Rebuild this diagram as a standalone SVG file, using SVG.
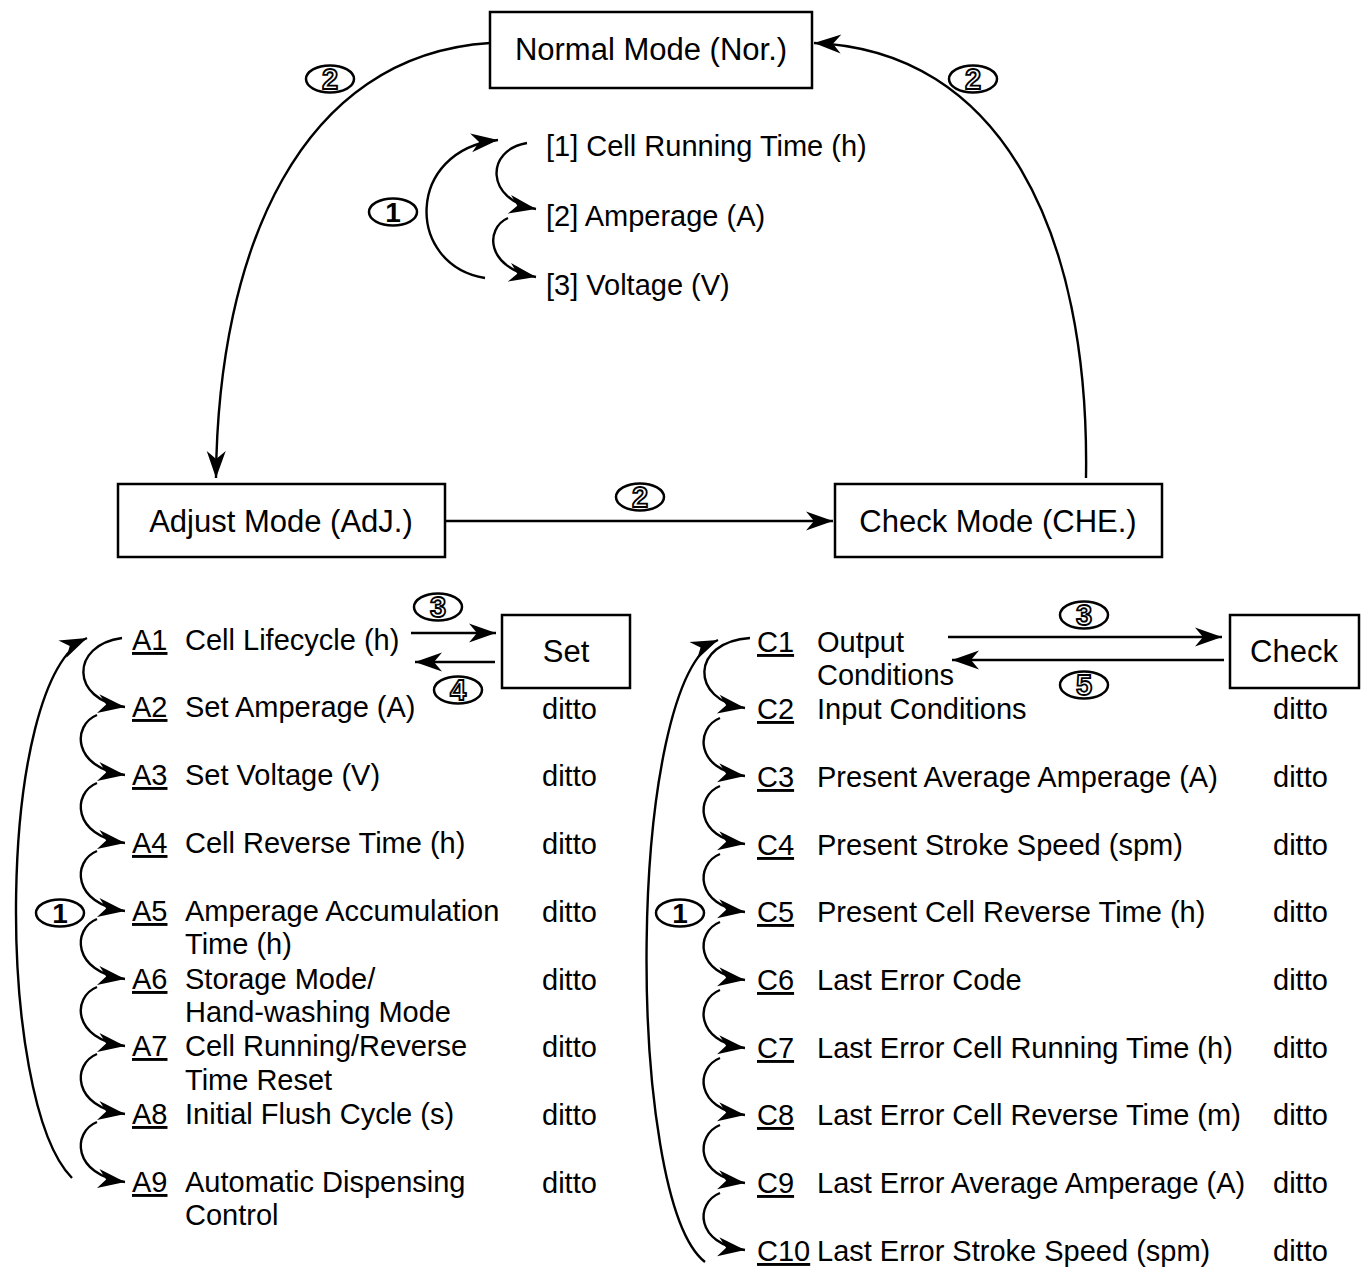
<svg xmlns="http://www.w3.org/2000/svg" width="1367" height="1268" viewBox="0 0 1367 1268">
<defs>
<marker id="ah" markerUnits="userSpaceOnUse" markerWidth="30" markerHeight="22" refX="27" refY="9.5" orient="auto" overflow="visible">
<path d="M0,0 L27,9.5 L0,19 L8,9.5 z" fill="#000"/>
</marker>
</defs>
<style>
text{font-family:"Liberation Sans",Arial,sans-serif;font-size:29px;fill:#000}
.b{font-size:31px;text-anchor:middle}
.n{font-size:29px;text-anchor:middle;font-weight:bold;fill:#fff;stroke:#000;stroke-width:1.8}
.n1{font-size:28px;text-anchor:middle;font-weight:bold}
.u{text-decoration:underline}
.box{fill:#fff;stroke:#000;stroke-width:2.5}
.ell{fill:#fff;stroke:#000;stroke-width:2.5}
.ln{fill:none;stroke:#000;stroke-width:2.4;marker-end:url(#ah)}
</style>
<rect width="1367" height="1268" fill="#fff"/>
<g id="connectors">
<path class="ln" d="M490 43 C300 55,218 250,216 478"/>
<path class="ln" d="M1086 478 C1090 230,1000 50,814 43"/>
<path class="ln" d="M445 521 L833 521"/>
<path class="ln" d="M485 278 C405 265,405 150,498 140"/>
<path class="ln" d="M527 143 C485 150,485 200,536 209"/>
<path class="ln" d="M508 218 C485 228,485 268,536 277"/>
<path class="ln" d="M411 633 L496 633"/>
<path class="ln" d="M495 662 L415 662"/>
<path class="ln" d="M948 637 L1222 637"/>
<path class="ln" d="M1224 660 L952 660"/>
<path class="ln" d="M72 1178 C-5 1100,-5 680,87 638"/>
<path class="ln" d="M122 638 C70 645,70 700,125 707"/>
<path class="ln" d="M97 715 C72 725,72 768,125 775"/>
<path class="ln" d="M97 783 C72 793,72 836,125 843"/>
<path class="ln" d="M97 851 C72 861,72 904,125 911"/>
<path class="ln" d="M97 919 C72 929,72 972,125 979"/>
<path class="ln" d="M97 987 C72 997,72 1039,125 1046"/>
<path class="ln" d="M97 1054 C72 1064,72 1107,125 1114"/>
<path class="ln" d="M97 1122 C72 1132,72 1175,125 1182"/>
<path class="ln" d="M705 1262 C625 1200,625 680,718 640"/>
<path class="ln" d="M750 638 C690 642,690 700,745 708"/>
<path class="ln" d="M720 718 C695 728,695 770,745 776"/>
<path class="ln" d="M720 786 C695 796,695 838,745 844"/>
<path class="ln" d="M720 854 C695 864,695 906,745 912"/>
<path class="ln" d="M720 922 C695 932,695 974,745 980"/>
<path class="ln" d="M720 990 C695 1000,695 1042,745 1048"/>
<path class="ln" d="M720 1058 C695 1068,695 1109,745 1115"/>
<path class="ln" d="M720 1125 C695 1135,695 1177,745 1183"/>
<path class="ln" d="M720 1193 C695 1203,695 1244,745 1250"/>
</g>
<g id="labels">
<ellipse class="ell" cx="330" cy="79" rx="24" ry="13.5"/><text class="n" x="330" y="89">2</text>
<ellipse class="ell" cx="973" cy="79" rx="24" ry="13.5"/><text class="n" x="973" y="89">2</text>
<ellipse class="ell" cx="640" cy="497" rx="24" ry="13.5"/><text class="n" x="640" y="507">2</text>
<ellipse class="ell" cx="393" cy="212" rx="24" ry="13.5"/><text class="n1" x="393" y="222">1</text>
<ellipse class="ell" cx="438" cy="607" rx="24" ry="13.5"/><text class="n" x="438" y="617">3</text>
<ellipse class="ell" cx="458" cy="690" rx="24" ry="13.5"/><text class="n" x="458" y="700">4</text>
<ellipse class="ell" cx="1084" cy="615" rx="24" ry="13.5"/><text class="n" x="1084" y="625">3</text>
<ellipse class="ell" cx="1084" cy="685" rx="24" ry="13.5"/><text class="n" x="1084" y="695">5</text>
<ellipse class="ell" cx="60" cy="913" rx="24" ry="13.5"/><text class="n1" x="60" y="923">1</text>
<ellipse class="ell" cx="680" cy="913" rx="24" ry="13.5"/><text class="n1" x="680" y="923">1</text>
</g>
<g id="normal"><rect class="box" x="490" y="12" width="322" height="76"/><text class="b" x="651" y="60">Normal Mode (Nor.)</text></g>
<g id="adjust"><rect class="box" x="118" y="484" width="327" height="73"/><text class="b" x="281" y="532">Adjust Mode (AdJ.)</text></g>
<g id="check-mode"><rect class="box" x="835" y="484" width="327" height="73"/><text class="b" x="998" y="532">Check Mode (CHE.)</text></g>
<g id="set"><rect class="box" x="502" y="615" width="128" height="73"/><text class="b" x="566" y="662">Set</text></g>
<g id="check"><rect class="box" x="1230" y="615" width="129" height="73"/><text class="b" x="1294" y="662">Check</text></g>
<g id="normal-items">
<text x="546" y="156">[1] Cell Running Time (h)</text>
<text x="546" y="226">[2] Amperage (A)</text>
<text x="546" y="295">[3] Voltage (V)</text>
</g>
<g id="adjust-items">
<text class="u" x="132" y="650">A1</text><text x="185" y="650">Cell Lifecycle (h)</text>
<text class="u" x="132" y="717">A2</text><text x="185" y="717">Set Amperage (A)</text><text x="542" y="719">ditto</text>
<text class="u" x="132" y="785">A3</text><text x="185" y="785">Set Voltage (V)</text><text x="542" y="786">ditto</text>
<text class="u" x="132" y="853">A4</text><text x="185" y="853">Cell Reverse Time (h)</text><text x="542" y="854">ditto</text>
<text class="u" x="132" y="921">A5</text><text x="185" y="921">Amperage Accumulation</text><text x="185" y="954">Time (h)</text><text x="542" y="922">ditto</text>
<text class="u" x="132" y="989">A6</text><text x="185" y="989">Storage Mode/</text><text x="185" y="1022">Hand-washing Mode</text><text x="542" y="990">ditto</text>
<text class="u" x="132" y="1056">A7</text><text x="185" y="1056">Cell Running/Reverse</text><text x="185" y="1090">Time Reset</text><text x="542" y="1057">ditto</text>
<text class="u" x="132" y="1124">A8</text><text x="185" y="1124">Initial Flush Cycle (s)</text><text x="542" y="1125">ditto</text>
<text class="u" x="132" y="1192">A9</text><text x="185" y="1192">Automatic Dispensing</text><text x="185" y="1225">Control</text><text x="542" y="1193">ditto</text>
</g>
<g id="check-items">
<text class="u" x="757" y="652">C1</text><text x="817" y="652">Output</text><text x="817" y="685">Conditions</text>
<text class="u" x="757" y="719">C2</text><text x="817" y="719">Input Conditions</text><text x="1273" y="719">ditto</text>
<text class="u" x="757" y="787">C3</text><text x="817" y="787">Present Average Amperage (A)</text><text x="1273" y="787">ditto</text>
<text class="u" x="757" y="855">C4</text><text x="817" y="855">Present Stroke Speed (spm)</text><text x="1273" y="855">ditto</text>
<text class="u" x="757" y="922">C5</text><text x="817" y="922">Present Cell Reverse Time (h)</text><text x="1273" y="922">ditto</text>
<text class="u" x="757" y="990">C6</text><text x="817" y="990">Last Error Code</text><text x="1273" y="990">ditto</text>
<text class="u" x="757" y="1058">C7</text><text x="817" y="1058">Last Error Cell Running Time (h)</text><text x="1273" y="1058">ditto</text>
<text class="u" x="757" y="1125">C8</text><text x="817" y="1125">Last Error Cell Reverse Time (m)</text><text x="1273" y="1125">ditto</text>
<text class="u" x="757" y="1193">C9</text><text x="817" y="1193">Last Error Average Amperage (A)</text><text x="1273" y="1193">ditto</text>
<text class="u" x="757" y="1261">C10</text><text x="817" y="1261">Last Error Stroke Speed (spm)</text><text x="1273" y="1261">ditto</text>
</g>
</svg>
